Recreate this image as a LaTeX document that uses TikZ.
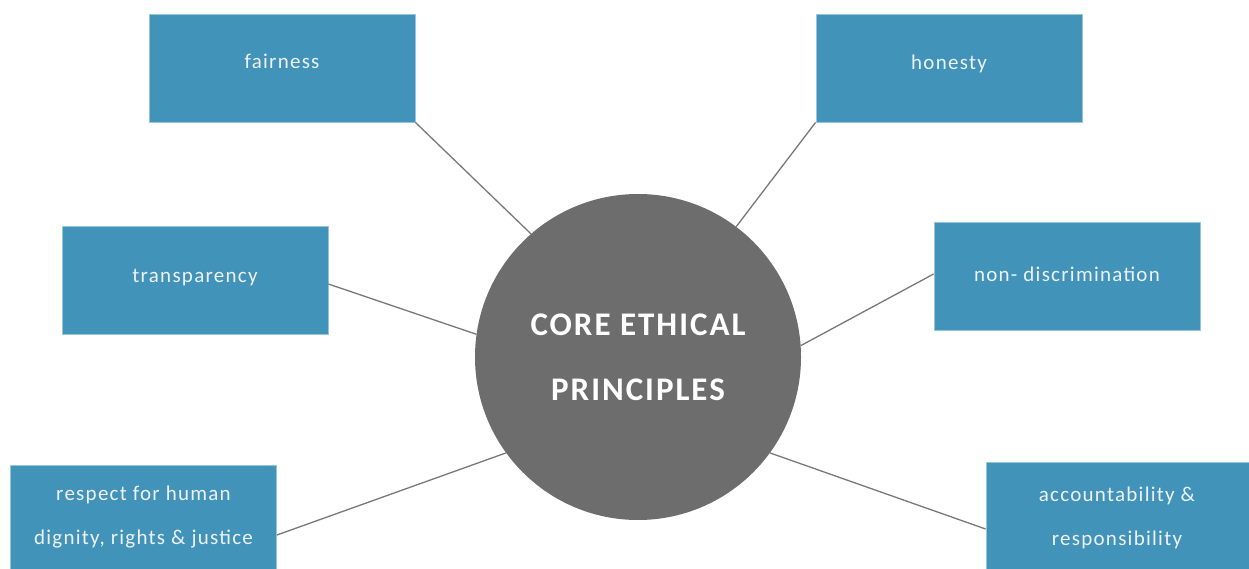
\documentclass[tikz,border=0pt]{standalone}
\usepackage{fontspec}
\setmainfont{Carlito}
\newfontfamily\boxfont[LetterSpace=6]{Carlito}
\newfontfamily\corefont[LetterSpace=6]{Carlito Bold}
\definecolor{boxblue}{RGB}{66,147,185}
\definecolor{boxedge}{RGB}{150,198,220}
\definecolor{coregray}{RGB}{109,109,109}
\definecolor{linkgray}{RGB}{120,120,120}
\definecolor{boxtext}{RGB}{238,242,246}
\tikzset{
  principle/.style={rectangle, fill=boxblue, draw=boxedge, line width=0.8pt,
    minimum width=266pt, minimum height=108pt, inner sep=0pt},
  ptext/.style={anchor=base, text=boxtext, align=center, inner sep=0pt,
    font=\boxfont\fontsize{21}{43.5}\selectfont},
  core/.style={circle, fill=coregray, minimum size=326pt, inner sep=0pt},
  coretext/.style={anchor=base, text=white, align=center, inner sep=0pt,
    font=\corefont\fontsize{33}{65}\selectfont},
  link/.style={draw=linkgray, line width=1.3pt}
}
\begin{document}
\begin{tikzpicture}[x=1pt,y=-1pt]
\clip (0,0) rectangle (1249,569);
\fill[white] (0,0) rectangle (1249,569);
% boxes
\node[principle] (fair) at (282,68) {};
\node[principle] (hon) at (949,68) {};
\node[principle] (tra) at (195,280) {};
\node[principle] (nond) at (1067,276) {};
\node[principle] (resp) at (143.5,519) {};
\node[principle] (acc) at (1119,516) {};
% centre
\node[core] (c) at (638,357) {};
% connectors
\draw[link] (fair.south east) -- (c.131.75);
\draw[link] (hon.south west) -- (c.53.5);
\draw[link] ([yshift=-4pt]tra.east) -- (c.172.6);
\draw[link] ([yshift=2pt]nond.west) -- (c.4.9);
\draw[link] ([yshift=-16pt]resp.east) -- (c.216.8);
\draw[link] ([yshift=-13pt]acc.west) -- (c.-36.4);
% texts
\node[ptext] (fairt) at (282,69) {fairness};
\node[ptext] (hont) at (949,70) {honesty};
\node[ptext] (trat) at (195,282) {transparency};
\node[ptext] (nondt) at (1067,281) {non- discrimination};
\node[ptext] (respt) at (143.5,544) {respect for human\\dignity, rights \& justice};
\node[ptext] (acct) at (1117,545) {accountability \&\\responsibility};
\node[coretext] (ct) at (638,400) {CORE ETHICAL\\PRINCIPLES};
\end{tikzpicture}
\end{document}
